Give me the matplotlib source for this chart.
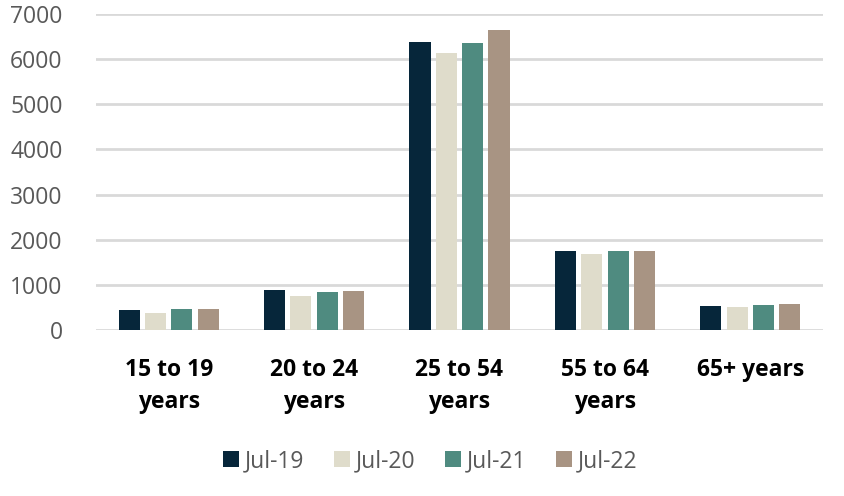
import matplotlib
matplotlib.use("Agg")
import matplotlib.pyplot as plt
import numpy as np

categories = ["15 to 19\nyears", "20 to 24\nyears", "25 to 54\nyears", "55 to 64\nyears", "65+ years"]
series_names = ["Jul-19", "Jul-20", "Jul-21", "Jul-22"]
jul19 = [450, 878, 6390, 1752, 532]
jul20 = [377, 760, 6133, 1685, 510]
jul21 = [465, 842, 6354, 1758, 548]
jul22 = [472, 864, 6649, 1752, 576]
yticks = [0, 1000, 2000, 3000, 4000, 5000, 6000, 7000]
colors = ["#06263A", "#DFDCCB", "#4F8B80", "#A89483"]

plt.rcParams['font.family'] = ['Open Sans', 'DejaVu Sans']

fig = plt.figure(figsize=(8.45, 4.96), dpi=100)
ax = fig.add_axes([96/845, 1-330/496, 727/845, 316/496])

x = np.arange(len(categories))
step = 0.181
width = 0.145
for i, (vals, name) in enumerate(zip([jul19, jul20, jul21, jul22], series_names)):
    ax.bar(x + (i - 1.5) * step, vals, width, color=colors[i], label=name, zorder=3)

ax.set_xlim(-0.5, len(categories) - 0.5)
ax.set_ylim(0, 7000)
ax.set_yticks(yticks)
ax.set_yticklabels([str(t) for t in yticks], fontsize=16.5, color="#595959")
ax.set_xticks(x)
ax.set_xticklabels(categories, fontsize=16.5, fontweight="bold", color="black", linespacing=1.45)
ax.tick_params(axis="both", length=0)
ax.tick_params(axis="y", pad=24)
ax.tick_params(axis="x", pad=20)
for s in ax.spines.values():
    s.set_visible(False)
ax.yaxis.grid(True, color="#D9D9D9", linewidth=2)
ax.set_axisbelow(True)

leg = fig.legend(loc="center", bbox_to_anchor=(430/845, 1-461/496), ncol=4, frameon=False,
                 fontsize=16.5, handlelength=0.7, handleheight=0.7, handletextpad=0.25,
                 columnspacing=1.3)
for t in leg.get_texts():
    t.set_color("#595959")

fig.savefig("out.png", dpi=100)
